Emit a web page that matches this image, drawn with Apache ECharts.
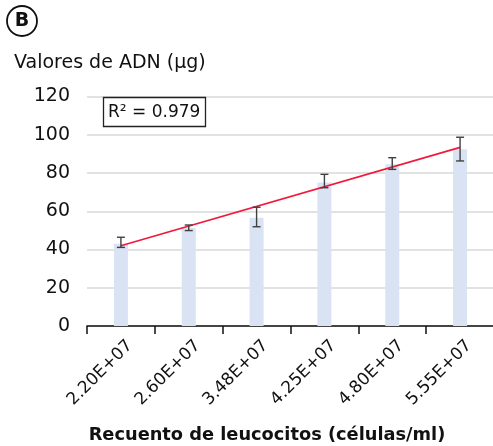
<!DOCTYPE html>
<html>
<head>
<meta charset="utf-8">
<style>
  html, body { margin: 0; padding: 0; background: #ffffff; }
  #chart { width: 493px; height: 446px; }
</style>
<script src="https://cdn.jsdelivr.net/npm/echarts@6/dist/echarts.min.js"></script>
</head>
<body>
<div id="chart"></div>
<script>
// Leukocyte counts (cells/ml) and DNA yield (µg)
const categories = ['2.20E+07', '2.60E+07', '3.48E+07', '4.25E+07', '4.80E+07', '5.55E+07'];
const dnaMean = [43, 51.2, 56.6, 75, 84.6, 92.4];
const errLow = [41.1, 49.9, 51.9, 72.3, 81.9, 86.3];
const errHigh = [46.4, 52.8, 62.1, 79.3, 88.0, 98.7];
// Linear trend line, first and last category
const trendValues = [42, null, null, null, null, 93.4];
const yTicks = [0, 20, 40, 60, 80, 100, 120];
const rSquared = 'R² = 0.979';
const yTitle = 'Valores de ADN (µg)';
const xTitle = 'Recuento de leucocitos (células/ml)';
const panelTag = 'B';

const FONT = '"DejaVu Sans", sans-serif';
const INK = '#111111';

// plot area
const G = { left: 87, right: -1, top: 96.5, bottom: 120 };
// labels sit slightly right of the category centre
const LABEL_SHIFT = 9;

const chart = echarts.init(document.getElementById('chart'), null, { renderer: 'canvas' });

const errData = categories.map((c, i) => [i, errLow[i], errHigh[i]]);

chart.setOption({
  animation: false,
  backgroundColor: '#ffffff',
  textStyle: { fontFamily: FONT },
  title: [
    {
      text: rSquared,
      left: 103, top: 97,
      padding: [7, 5, 6, 5],
      borderColor: '#222', borderWidth: 1.3,
      textStyle: { fontFamily: FONT, fontSize: 17, fontWeight: 'normal', color: INK }
    }
  ],
  graphic: [
    {
      type: 'circle',
      shape: { cx: 22, cy: 21, r: 15 },
      style: { fill: 'none', stroke: INK, lineWidth: 1.8 }
    },
    {
      type: 'text',
      x: 22, y: 21.5,
      style: {
        text: panelTag, fontFamily: FONT, fontSize: 19, fontWeight: 'bold',
        fill: INK, align: 'center', verticalAlign: 'middle'
      }
    },
    {
      type: 'text',
      x: 14, y: 63,
      style: {
        text: yTitle, fontFamily: FONT, fontSize: 19,
        fill: INK, align: 'left', verticalAlign: 'middle'
      }
    },
    {
      type: 'text',
      x: 267, y: 435,
      style: {
        text: xTitle, fontFamily: FONT, fontSize: 17.8, fontWeight: 'bold',
        fill: INK, align: 'center', verticalAlign: 'middle'
      }
    }
  ],
  grid: [
    { left: G.left, right: G.right, top: G.top, bottom: G.bottom, outerBoundsMode: 'none' },
    { left: G.left + LABEL_SHIFT, right: G.right - LABEL_SHIFT, top: G.top, bottom: G.bottom, outerBoundsMode: 'none' }
  ],
  xAxis: [
    {
      type: 'category',
      gridIndex: 0,
      data: categories,
      boundaryGap: true,
      axisLine: { lineStyle: { color: INK, width: 1.5 } },
      axisTick: { show: true, interval: 0, length: 8, lineStyle: { color: INK, width: 1.5 } },
      axisLabel: { show: false },
      splitLine: { show: false }
    },
    {
      type: 'category',
      gridIndex: 1,
      data: categories,
      boundaryGap: true,
      axisLine: { show: false },
      axisTick: { show: false },
      axisLabel: {
        rotate: 45, margin: 17, interval: 0,
        fontFamily: FONT, fontSize: 17, color: INK
      },
      splitLine: { show: false }
    }
  ],
  yAxis: [
    {
      type: 'value',
      gridIndex: 0,
      min: yTicks[0], max: yTicks[yTicks.length - 1], interval: 20,
      axisLine: { show: false },
      axisTick: { show: false },
      axisLabel: { margin: 17, fontFamily: FONT, fontSize: 19, color: INK },
      splitLine: { lineStyle: { color: '#d9d9d9', width: 1.5 } }
    },
    {
      type: 'value',
      gridIndex: 1,
      min: yTicks[0], max: yTicks[yTicks.length - 1], interval: 20,
      show: false
    }
  ],
  series: [
    {
      type: 'bar',
      data: dnaMean,
      barWidth: 14,
      itemStyle: { color: '#dae3f3' },
      z: 2
    },
    {
      type: 'custom',
      data: errData,
      z: 4,
      renderItem: function (params, api) {
        const x = api.value(0);
        const lo = api.coord([x, api.value(1)]);
        const hi = api.coord([x, api.value(2)]);
        const cap = 4;
        const st = { stroke: '#404040', lineWidth: 1.4 };
        return {
          type: 'group',
          children: [
            { type: 'line', shape: { x1: lo[0], y1: lo[1], x2: hi[0], y2: hi[1] }, style: st },
            { type: 'line', shape: { x1: lo[0] - cap, y1: lo[1], x2: lo[0] + cap, y2: lo[1] }, style: st },
            { type: 'line', shape: { x1: hi[0] - cap, y1: hi[1], x2: hi[0] + cap, y2: hi[1] }, style: st }
          ]
        };
      }
    },
    {
      type: 'line',
      data: trendValues,
      connectNulls: true,
      symbol: 'none',
      lineStyle: { color: '#f0193c', width: 1.6 },
      z: 3
    }
  ]
});
</script>
</body>
</html>
